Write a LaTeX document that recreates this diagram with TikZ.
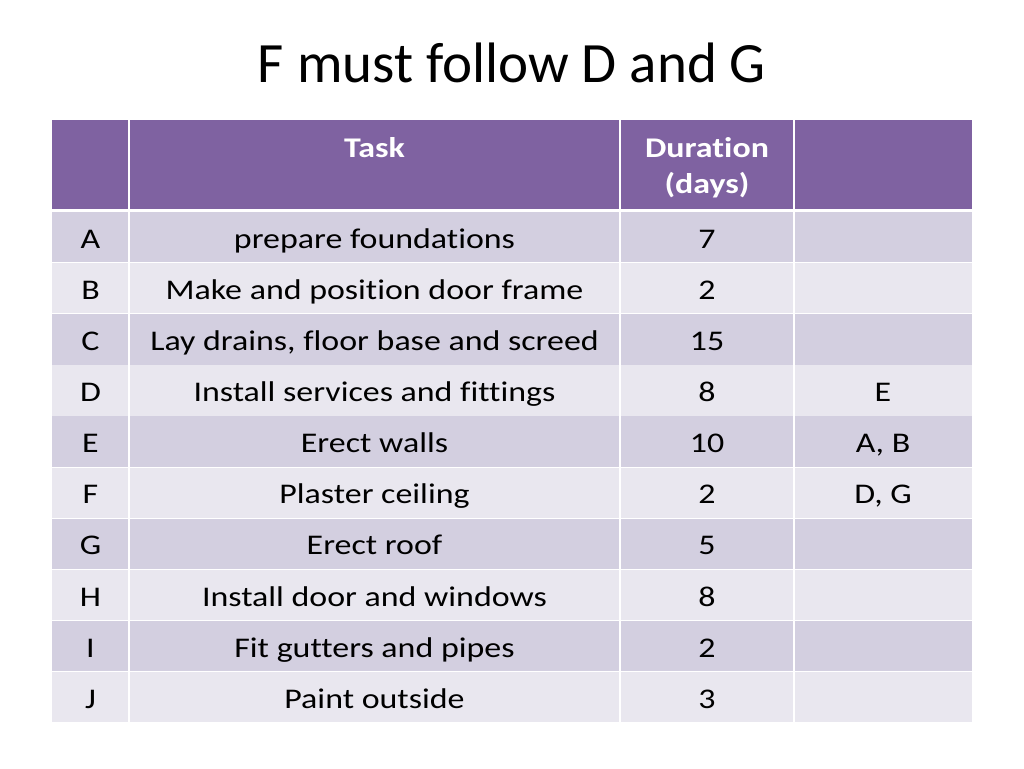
\documentclass[tikz,border=0pt]{standalone}
\usepackage{fontspec}
\setmainfont{Carlito}[Ligatures=NoCommon]
\newfontfamily\tablefont{Carlito}[FakeStretch=1.19,Ligatures=NoCommon]
\definecolor{hdr}{HTML}{7F62A1}
\definecolor{rowdark}{HTML}{D3CFE0}
\definecolor{rowlight}{HTML}{E9E7EF}
\begin{document}
\begin{tikzpicture}[x=1pt,y=-1pt,
  celltext/.style={anchor=base,inner sep=0pt,font=\tablefont\fontsize{28.5}{30}\selectfont},
  hdrtext/.style={anchor=base,inner sep=0pt,text=white,font=\tablefont\fontsize{28.5}{30}\selectfont\bfseries}]
\useasboundingbox[fill=white] (0,0) rectangle (1024,768);
\node[anchor=base,inner sep=0pt,font=\fontsize{57}{60}\selectfont] (title) at (512,82) {F must follow D and G};
% header
\fill[hdr] (52,120) rectangle (972,210);
\foreach \x in {129,620,794} \draw[white,line width=1.5pt] (\x,120) -- (\x,210);
\node[hdrtext] (hTask) at (374.5,157) {Task};
\node[hdrtext] (hDur) at (707,157) {Duration};
\node[hdrtext] (hDays) at (707,193) {(days)};
% body rows
\foreach \id/\task/\dur/\pre [count=\n from 0] in {
  A/prepare foundations/7/,
  B/Make and position door frame/2/,
  C/{Lay drains, floor base and screed}/15/,
  D/Install services and fittings/8/E,
  E/Erect walls/10/{A, B},
  F/Plaster ceiling/2/{D, G},
  G/Erect roof/5/,
  H/Install door and windows/8/,
  I/Fit gutters and pipes/2/,
  J/Paint outside/3/}{
  \pgfmathsetmacro{\top}{212+51.1*\n}
  \pgfmathsetmacro{\bot}{\top+51.1}
  \pgfmathsetmacro{\base}{\top+36.3}
  \pgfmathparse{mod(\n,2)==0 ? "rowdark" : "rowlight"}
  \edef\rc{\pgfmathresult}
  \fill[\rc] (52,\top) rectangle (972,\bot);
  \foreach \x in {129,620,794} \draw[white,line width=1.5pt] (\x,\top) -- (\x,\bot);
  \draw[white,line width=1.5pt] (52,\bot) -- (972,\bot);
  \node[celltext] (id\id) at (90.5,\base) {\id};
  \node[celltext] (task\id) at (374.5,\base) {\task};
  \node[celltext] (dur\id) at (707,\base) {\dur};
  \node[celltext] (pre\id) at (883,\base) {\pre};
}
\draw[white,line width=3pt] (52,210.5) -- (972,210.5);
\end{tikzpicture}
\end{document}
